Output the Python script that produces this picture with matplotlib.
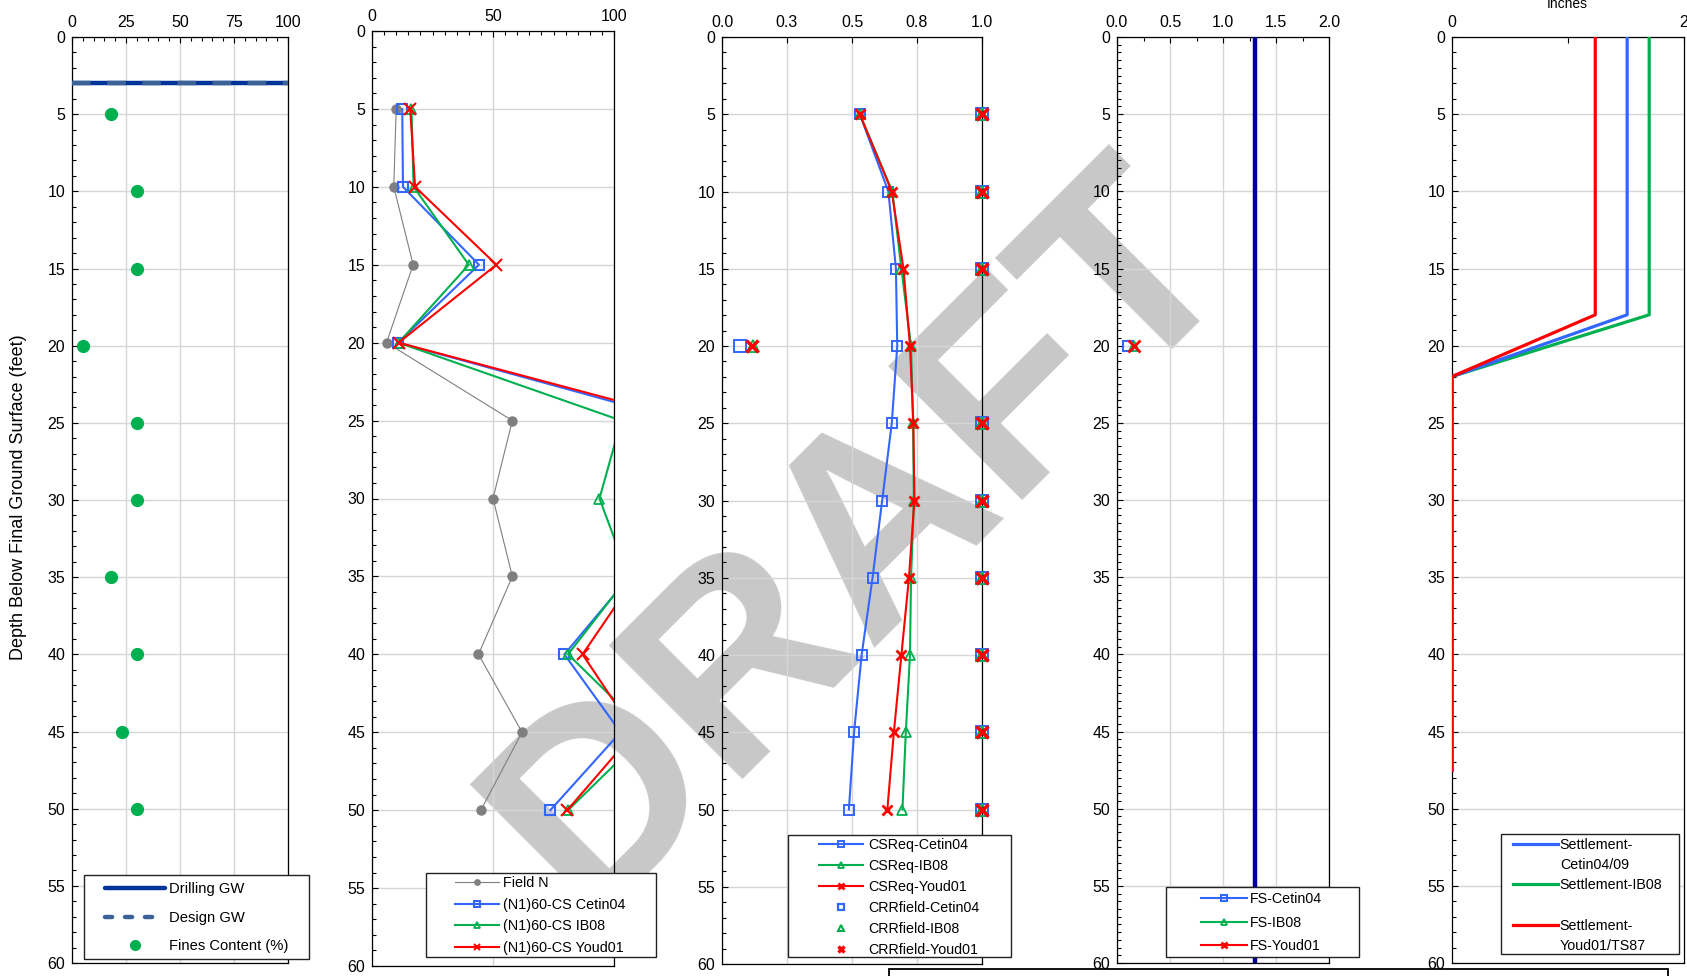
import matplotlib
matplotlib.use("Agg")
import numpy as np
import matplotlib.pyplot as plt
from matplotlib.lines import Line2D
from matplotlib.patches import Rectangle
from matplotlib.ticker import MultipleLocator, FixedLocator

plt.rcParams['font.family'] = ['Liberation Sans', 'DejaVu Sans']

# ---------------- data ----------------
depth = [5, 10, 15, 20, 25, 30, 35, 40, 45, 50]

fines_content = [18, 30, 30, 5, 30, 30, 18, 30, 23, 30]
drilling_gw = 3.0
design_gw = 3.0

field_n = [10, 9, 17, 6, 58, 50, 58, 44, 62, 45]
n160cs_cetin04 = [12.5, 12.8, 44.2, 10.8, 128, 130, 106.5, 79.5, 102.7, 73.7]
n160cs_ib08 = [16.3, 17.2, 40.0, 11.0, 103, 94, 106, 81, 114, 81]
n160cs_youd01 = [15.8, 17.8, 51.4, 11.0, 132, 140, 109, 87, 108.5, 80.7]

csreq_cetin04 = [0.53, 0.640, 0.669, 0.674, 0.653, 0.616, 0.579, 0.537, 0.508, 0.488]
csreq_ib08 = [0.53, 0.655, 0.690, 0.727, 0.735, 0.738, 0.727, 0.723, 0.707, 0.694]
csreq_youd01 = [0.53, 0.653, 0.698, 0.723, 0.736, 0.740, 0.719, 0.690, 0.661, 0.636]

crr_cetin04 = [1.0, 1.0, 1.0, 0.070, 1.0, 1.0, 1.0, 1.0, 1.0, 1.0]
crr_ib08 = [1.0, 1.0, 1.0, 0.120, 1.0, 1.0, 1.0, 1.0, 1.0, 1.0]
crr_youd01 = [1.0, 1.0, 1.0, 0.116, 1.0, 1.0, 1.0, 1.0, 1.0, 1.0]

fs_design = 1.3

settle_depth = [0, 18, 22, 47.5]
settle_cetin = [1.51, 1.51, 0.0, 0.0]
settle_ib08 = [1.70, 1.70, 0.0, 0.0]
settle_youd = [1.235, 1.235, 0.0, 0.0]

csr_ticks = [0.0, 0.25, 0.5, 0.75, 1.0]
csr_ticklabels = ["0.0", "0.3", "0.5", "0.8", "1.0"]

# ---------------- styling ----------------
BLUE = '#3366ff'
GREEN = '#00b050'
RED = '#ff0000'
GRAY = '#7f7f7f'
NAVY = '#003399'
STEEL = '#3b6196'
GRID = '#d6d6d6'

W, H = 1687, 976
fig = plt.figure(figsize=(W / 100, H / 100), dpi=100)


def add_panel(x0, y0, x1, y1):
    ax = fig.add_axes([x0 / W, 1 - y1 / H, (x1 - x0) / W, (y1 - y0) / H])
    ax.patch.set_alpha(0)
    ax.set_ylim(60, 0)
    ax.yaxis.set_major_locator(MultipleLocator(5))
    ax.yaxis.set_minor_locator(MultipleLocator(1))
    ax.xaxis.tick_top()
    ax.tick_params(which='both', direction='in', top=True, bottom=False,
                   left=True, right=False, labeltop=True, labelbottom=False,
                   labelsize=11.5, colors='black', width=0.8)
    ax.tick_params(which='major', length=4, pad=5)
    ax.tick_params(which='minor', length=3)
    for s in ax.spines.values():
        s.set_linewidth(0.9)
        s.set_color('black')
    ax.set_axisbelow(True)
    return ax


def framed_legend(ax, handles, labels, frame_px, anchor_px, fontsize,
                  handlelength, labelspacing, handletextpad, markerscale=0.6):
    x0, y0, x1, y1 = frame_px
    ax.add_patch(Rectangle((x0 / W, 1 - y1 / H), (x1 - x0) / W, (y1 - y0) / H,
                           transform=fig.transFigure, facecolor='white',
                           edgecolor='#222222', lw=1.0, clip_on=False, zorder=9))
    leg = ax.legend(handles, labels, loc='upper left',
                    bbox_to_anchor=(anchor_px[0] / W, 1 - anchor_px[1] / H),
                    bbox_transform=fig.transFigure, frameon=False, borderpad=0,
                    borderaxespad=0, fontsize=fontsize, handlelength=handlelength,
                    labelspacing=labelspacing, handletextpad=handletextpad,
                    markerscale=markerscale)
    leg.set_zorder(10)
    return leg


# ---------- panel 1: groundwater & fines ----------
ax1 = add_panel(72, 37, 288, 963)
ax1.set_xlim(0, 100)
ax1.xaxis.set_major_locator(MultipleLocator(25))
ax1.xaxis.set_minor_locator(MultipleLocator(5))
ax1.grid(True, which='major', color=GRID, lw=1)
ax1.plot([0, 100], [drilling_gw, drilling_gw], color=NAVY, lw=3.2,
         solid_capstyle='butt', zorder=3)
ax1.plot([0, 100], [design_gw, design_gw], color=STEEL, lw=3.2,
         dashes=(4.2, 3.7), dash_capstyle='butt', zorder=4)
ax1.plot(fines_content, depth, 'o', color=GREEN, ms=8.5, zorder=5)

h1 = [Line2D([], [], color=NAVY, lw=3.2, solid_capstyle='round'),
      Line2D([], [], color=STEEL, lw=3.2, dashes=(1.6, 2.9), dash_capstyle='round'),
      Line2D([], [], color=GREEN, marker='o', ls='none', ms=7)]
framed_legend(ax1, h1, ['Drilling GW', 'Design GW', 'Fines Content (%)'],
              (84, 875, 309, 959), (105, 882), 10.6, 4.1, 1.0, 0.28, markerscale=1)

# ---------- panel 2: SPT blow counts ----------
ax2 = add_panel(372, 31, 614, 966)
ax2.set_xlim(0, 100)
ax2.xaxis.set_major_locator(MultipleLocator(50))
ax2.xaxis.set_minor_locator(MultipleLocator(5))
ax2.grid(True, which='major', color=GRID, lw=1)
ax2.plot(field_n, depth, '-o', color=GRAY, lw=0.8, ms=6.5, zorder=3)
ax2.plot(n160cs_cetin04, depth, '-s', color=BLUE, lw=1.5, ms=7, mfc='none', mew=1.5, zorder=4)
ax2.plot(n160cs_ib08, depth, '-^', color=GREEN, lw=1.5, ms=7.5, mfc='none', mew=1.3, zorder=5)
ax2.plot(n160cs_youd01, depth, '-x', color=RED, lw=1.5, ms=8, mew=1.5, zorder=6)

h2 = [Line2D([], [], color=GRAY, lw=0.8, marker='o', ms=6.5),
      Line2D([], [], color=BLUE, lw=1.5, marker='s', ms=7, mfc='none', mew=1.5),
      Line2D([], [], color=GREEN, lw=1.5, marker='^', ms=7.5, mfc='none', mew=1.3),
      Line2D([], [], color=RED, lw=1.5, marker='x', ms=8, mew=1.5)]
framed_legend(ax2, h2, ['Field N', '(N1)60-CS Cetin04', '(N1)60-CS IB08',
                        '(N1)60-CS Youd01'],
              (426, 873, 656, 957), (455, 876), 10.4, 3.05, 0.53, 0.28, markerscale=0.6)

# ---------- panel 3: cyclic stress / resistance ratios ----------
ax3 = add_panel(722, 37, 982, 964)
ax3.set_xlim(0, 1.0)
ax3.xaxis.set_major_locator(FixedLocator(csr_ticks))
ax3.set_xticklabels(csr_ticklabels)
ax3.grid(True, which='major', color=GRID, lw=1)
ax3.plot(csreq_cetin04, depth, '-s', color=BLUE, lw=1.5, ms=7, mfc='none', mew=1.4, zorder=4)
ax3.plot(csreq_ib08, depth, '-^', color=GREEN, lw=1.5, ms=7.5, mfc='none', mew=1.3, zorder=5)
ax3.plot(csreq_youd01, depth, '-x', color=RED, lw=1.5, ms=7.5, mew=2.0, zorder=6)
ax3.plot(crr_cetin04, depth, 's', color=BLUE, ms=8, mfc='none', mew=1.4, clip_on=False, zorder=7)
ax3.plot(crr_ib08, depth, '^', color=GREEN, ms=8, mfc='none', mew=1.3, clip_on=False, zorder=8)
ax3.plot(crr_youd01, depth, 'x', color=RED, ms=8, mew=2.5, clip_on=False, zorder=9)

h3 = [Line2D([], [], color=BLUE, lw=1.5, marker='s', ms=7, mfc='none', mew=1.4),
      Line2D([], [], color=GREEN, lw=1.5, marker='^', ms=7.5, mfc='none', mew=1.3),
      Line2D([], [], color=RED, lw=1.5, marker='x', ms=7.5, mew=2.0),
      Line2D([], [], color=BLUE, ls='none', marker='s', ms=8, mfc='none', mew=1.6),
      Line2D([], [], color=GREEN, ls='none', marker='^', ms=8, mfc='none', mew=1.5),
      Line2D([], [], color=RED, ls='none', marker='x', ms=8, mew=2.5)]
framed_legend(ax3, h3, ['CSReq-Cetin04', 'CSReq-IB08', 'CSReq-Youd01',
                        'CRRfield-Cetin04', 'CRRfield-IB08', 'CRRfield-Youd01'],
              (788, 835, 1011, 957), (819, 838), 10.3, 3.07, 0.49, 0.35, markerscale=0.6)

# ---------- panel 4: factor of safety ----------
crr_all = [np.array(crr_cetin04), np.array(crr_ib08), np.array(crr_youd01)]
csr_all = [np.array(csreq_cetin04), np.array(csreq_ib08), np.array(csreq_youd01)]
fs_cetin04, fs_ib08, fs_youd01 = [np.where(c < 1.0, c / s, np.nan)
                                  for c, s in zip(crr_all, csr_all)]

ax4 = add_panel(1117, 37, 1329, 963)
ax4.set_xlim(0, 2.0)
ax4.xaxis.set_major_locator(MultipleLocator(0.5))
ax4.xaxis.set_minor_locator(MultipleLocator(0.25))
ax4.xaxis.set_major_formatter(lambda v, p: f"{v:.1f}")
ax4.yaxis.set_minor_locator(MultipleLocator(0.5))
ax4.grid(True, which='major', color=GRID, lw=1)
ax4.plot([fs_design, fs_design], [0, 60], color='#000099', lw=3.2, zorder=3)
ax4.plot(fs_cetin04, depth, '-s', color=BLUE, lw=1.5, ms=7.5, mfc='none', mew=1.5, zorder=4)
ax4.plot(fs_ib08, depth, '-^', color=GREEN, lw=1.5, ms=7.5, mfc='none', mew=1.3, zorder=5)
ax4.plot(fs_youd01, depth, '-x', color=RED, lw=1.5, ms=8, mew=2.0, zorder=6)

h4 = [Line2D([], [], color=BLUE, lw=1.5, marker='s', ms=7.5, mfc='none', mew=1.5),
      Line2D([], [], color=GREEN, lw=1.5, marker='^', ms=7.5, mfc='none', mew=1.3),
      Line2D([], [], color=RED, lw=1.5, marker='x', ms=8, mew=2.0)]
framed_legend(ax4, h4, ['FS-Cetin04', 'FS-IB08', 'FS-Youd01'],
              (1166, 887, 1359, 957), (1201, 892), 10.3, 3.2, 0.67, 0.2, markerscale=0.6)

# ---------- panel 5: settlement ----------
ax5 = add_panel(1452, 37, 1684, 963)
ax5.set_xlim(0, 2)
ax5.xaxis.set_major_locator(FixedLocator([0, 1, 2]))
ax5.set_xticklabels(['0', '', '2'])
ax5.grid(True, axis='y', which='major', color=GRID, lw=1)
ax5.plot(settle_ib08, settle_depth, color=GREEN, lw=2.3, zorder=3)
ax5.plot(settle_cetin, settle_depth, color=BLUE, lw=2.3, zorder=4)
ax5.plot(settle_youd, settle_depth, color=RED, lw=2.3, zorder=5)
fig.text(1567 / W, 1 - 8 / H, 'Inches', fontsize=10, ha='center', va='baseline')

blank = Line2D([], [], color='none')
h5 = [Line2D([], [], color=BLUE, lw=2.3), blank,
      Line2D([], [], color=GREEN, lw=2.3), blank,
      Line2D([], [], color=RED, lw=2.3), blank]
framed_legend(ax5, h5, ['Settlement-', 'Cetin04/09', 'Settlement-IB08', '',
                        'Settlement-', 'Youd01/TS87'],
              (1501, 834, 1679, 954), (1513, 838), 10.3, 3.15, 0.43, 0.12, markerscale=1)

# ---------- shared annotations ----------
fig.text(19 / W, 1 - 497 / H, 'Depth Below Final Ground Surface (feet)',
         rotation=90, ha='center', va='center', fontsize=13)

fig.text(863 / W, 1 - 540 / H, 'DRAFT', fontsize=197, fontweight='bold',
         color='#c8c8c8', rotation=45, ha='center', va='center',
         rotation_mode='anchor', zorder=-1)

fig.add_artist(Rectangle((889 / W, -0.05), (1668 - 889) / W, 0.05 + 7 / H,
                         transform=fig.transFigure, fill=False,
                         edgecolor='black', lw=1.3, clip_on=False))

fig.savefig('out.png', dpi=100)
